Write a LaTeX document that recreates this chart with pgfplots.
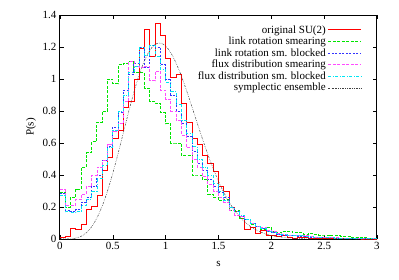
\documentclass[border=0pt]{standalone}
\usepackage{pgfplots}
\usepackage{pgfplotstable}
\pgfplotsset{compat=1.18}
\usepackage{fontspec}
\setmainfont{Liberation Serif}
\definecolor{gpgreen}{rgb}{0,0.9,0}
\definecolor{gpblue}{rgb}{0.2,0.2,1}
\definecolor{gpmag}{rgb}{1,0.3,1}
\definecolor{gpcyan}{rgb}{0,0.9,0.95}
\pgfplotstableread{
s red green blue mag cyan
0.00 0.010 0.29 0.285 0.31 0.27
0.05 0.015 0.20 0.18 0.21 0.17
0.10 0.065 0.26 0.17 0.21 0.165
0.15 0.060 0.31 0.185 0.245 0.175
0.20 0.090 0.45 0.23 0.28 0.21
0.25 0.185 0.54 0.26 0.33 0.25
0.30 0.205 0.61 0.33 0.40 0.30
0.35 0.270 0.73 0.40 0.45 0.38
0.40 0.430 0.80 0.49 0.49 0.46
0.45 0.510 1.00 0.58 0.59 0.57
0.50 0.630 0.97 0.70 0.67 0.68
0.55 0.680 1.09 0.79 0.72 0.80
0.60 0.820 1.10 0.93 0.86 0.90
0.65 0.860 1.11 1.03 1.11 1.04
0.70 1.000 1.04 1.10 1.08 1.08
0.75 1.190 1.04 1.20 1.07 1.20
0.80 1.310 0.94 1.07 1.08 1.15
0.85 1.140 0.86 1.21 0.99 1.21
0.90 1.350 0.85 1.20 1.05 1.14
0.95 1.270 0.79 1.09 0.93 1.06
1.00 1.130 0.72 1.00 0.87 0.98
1.05 1.010 0.60 0.90 0.80 0.92
1.10 1.030 0.60 0.80 0.74 0.84
1.15 0.850 0.52 0.72 0.65 0.74
1.20 0.730 0.52 0.64 0.57 0.66
1.25 0.630 0.40 0.55 0.50 0.58
1.30 0.590 0.40 0.47 0.45 0.50
1.35 0.520 0.37 0.43 0.39 0.45
1.40 0.470 0.28 0.37 0.34 0.40
1.45 0.420 0.26 0.33 0.30 0.35
1.50 0.330 0.24 0.29 0.26 0.30
1.55 0.300 0.25 0.26 0.23 0.24
1.60 0.200 0.18 0.20 0.18 0.20
1.65 0.170 0.18 0.17 0.15 0.17
1.70 0.130 0.13 0.14 0.14 0.15
1.75 0.060 0.12 0.12 0.12 0.12
1.80 0.075 0.09 0.10 0.10 0.10
1.85 0.035 0.08 0.08 0.08 0.08
1.90 0.055 0.06 0.065 0.07 0.065
1.95 0.020 0.07 0.05 0.055 0.05
2.00 0.020 0.050 0.040 0.045 0.040
2.05 0.015 0.040 0.030 0.035 0.030
2.10 0.020 0.050 0.025 0.030 0.030
2.15 0.010 0.050 0.025 0.025 0.025
2.20 0.005 0.040 0.020 0.025 0.020
2.25 0.008 0.040 0.015 0.020 0.020
2.30 0.010 0.030 0.015 0.020 0.015
2.35 0.005 0.035 0.012 0.015 0.015
2.40 0.003 0.030 0.010 0.012 0.012
2.45 0.004 0.025 0.010 0.010 0.010
2.50 0.003 0.025 0.008 0.010 0.008
2.55 0.002 0.020 0.007 0.008 0.007
2.60 0.002 0.020 0.006 0.007 0.006
2.65 0.002 0.015 0.005 0.006 0.005
2.70 0.001 0.015 0.004 0.005 0.004
2.75 0.001 0.010 0.003 0.004 0.003
2.80 0.001 0.010 0.003 0.003 0.003
2.85 0.000 0.008 0.002 0.002 0.002
2.90 0.000 0.006 0.002 0.002 0.002
2.95 0.000 0.004 0.001 0.001 0.001
3.00 0.000 0.004 0.001 0.001 0.001
}\hist
\pgfplotstableread{
s P
0.00 0.0
0.10 0.0011
0.15 0.0056
0.20 0.0170
0.25 0.0393
0.30 0.0766
0.35 0.1319
0.40 0.2067
0.45 0.3007
0.50 0.4116
0.55 0.5351
0.60 0.6654
0.65 0.7956
0.70 0.9183
0.75 1.0272
0.80 1.1158
0.85 1.1799
0.90 1.2166
0.95 1.2249
1.00 1.2062
1.05 1.1625
1.10 1.0972
1.15 1.0164
1.20 0.9236
1.25 0.8239
1.30 0.7224
1.35 0.6225
1.40 0.5274
1.45 0.4397
1.50 0.3605
1.55 0.2911
1.60 0.2314
1.65 0.1812
1.70 0.1398
1.75 0.1062
1.80 0.0795
1.85 0.0587
1.90 0.0428
2.00 0.0217
2.20 0.0048
2.40 0.0008
2.60 0.0001
3.00 0.0
}\gse
\begin{document}
\begin{tikzpicture}
\begin{axis}[
  scale only axis,
  width=317pt, height=224pt,
  xmin=0, xmax=3, ymin=0, ymax=1.4,
  xtick={0,0.5,...,3}, ytick={0,0.2,...,1.4},
  tick align=inside,
  major tick length=4pt,
  axis line style={line width=1pt},
  tick style={black, line width=0.6pt},
  /pgf/number format/assume math mode=true,
  ticklabel style={font=\fontsize{11}{12}\selectfont},
  xlabel={s}, ylabel={P(s)},
  label style={font=\fontsize{11}{12}\selectfont},
  xlabel style={yshift=-4pt},
  legend plot pos=right,
  legend cell align=right,
  legend style={draw=none, fill=none, font=\fontsize{11}{12}\selectfont,
    at={(rel axis cs:0.955,0.968)}, anchor=north east,
    row sep=-1.6pt, inner sep=1pt},
  legend image code/.code={\draw[#1] (0cm,0cm) -- (1.15cm,0cm);},
  every axis plot/.append style={line width=0.9pt},
]
\addplot[color=red, const plot mark left] table[x=s,y=red] {\hist};
\addlegendentry{original SU(2)}
\addplot[color=gpgreen, line width=1pt, dash pattern=on 3pt off 1.5pt, const plot mark left] table[x=s,y=green] {\hist};
\addlegendentry{link rotation smearing}
\addplot[color=gpblue, line width=1pt, dash pattern=on 2pt off 1.5pt, const plot mark left] table[x=s,y=blue] {\hist};
\addlegendentry{link rotation sm. blocked}
\addplot[color=gpmag, dash pattern=on 3pt off 1.5pt, const plot mark left] table[x=s,y=mag] {\hist};
\addlegendentry{flux distribution smearing}
\addplot[color=gpcyan, dash pattern=on 3pt off 1.5pt on 1pt off 1.5pt, const plot mark left] table[x=s,y=cyan] {\hist};
\addlegendentry{flux distribution sm. blocked}
\addplot[color=black!75, line width=0.5pt, dash pattern=on 2pt off 1.2pt on 0.6pt off 1.2pt on 0.6pt off 1.2pt, smooth] table[x=s,y=P] {\gse};
\addlegendentry{symplectic ensemble}
\end{axis}
\pgfresetboundingbox
\path[use as bounding box] (current axis.south west) ++(-60pt,-40pt) rectangle ([shift={(22pt,15pt)}]current axis.north east);
\end{tikzpicture}
\end{document}
